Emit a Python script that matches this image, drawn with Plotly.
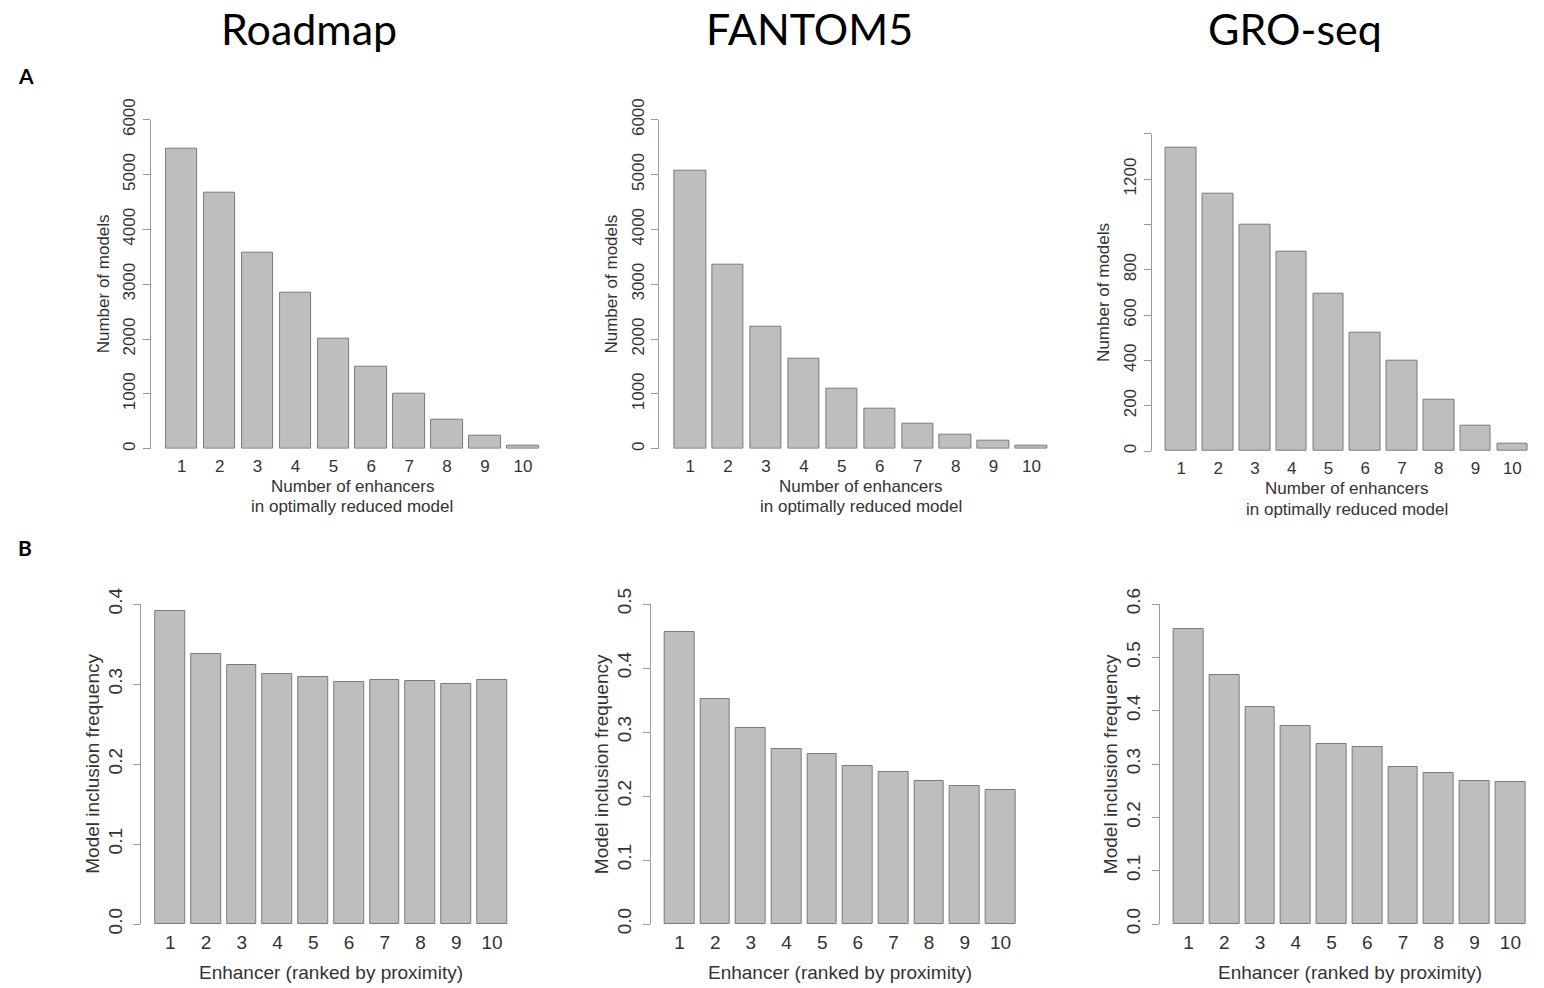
import plotly.graph_objects as go

# the page body margin is removed by a post script, so the figure fills the window
OFF = 0
FW, FH = 1544, 988


def fx(px):
    return (px - OFF) / FW


def fy(py):
    return 1 - (py - OFF) / FH


categories = ["1", "2", "3", "4", "5", "6", "7", "8", "9", "10"]

roadmap_models = [5465, 4669, 3568, 2839, 2000, 1495, 1003, 535, 231, 55]
fantom5_models = [5076, 3356, 2231, 1635, 1094, 736, 462, 261, 140, 52]
groseq_models = [1338, 1137, 997, 879, 696, 521, 397, 228, 110, 34]

roadmap_freq = [0.391, 0.337, 0.324, 0.312, 0.309, 0.303, 0.305, 0.304, 0.300, 0.305]
fantom5_freq = [0.456, 0.351, 0.307, 0.273, 0.265, 0.247, 0.238, 0.223, 0.216, 0.210]
groseq_freq = [0.553, 0.4675, 0.407, 0.372, 0.3375, 0.331, 0.294, 0.283, 0.269, 0.266]

titles = ["Roadmap", "FANTOM5", "GRO-seq"]
row_labels = ["A", "B"]

ticks_models_6000 = [0, 1000, 2000, 3000, 4000, 5000, 6000]
ticks_models_1400 = [0, 200, 400, 600, 800, 1000, 1200, 1400]
ticktext_1400 = ["0", "200", "400", "600", "800", "", "1200", ""]
ticks_04 = [0.0, 0.1, 0.2, 0.3, 0.4]
ticks_05 = [0.0, 0.1, 0.2, 0.3, 0.4, 0.5]
ticks_06 = [0.0, 0.1, 0.2, 0.3, 0.4, 0.5, 0.6]

# bar centres as in R barplot (width 1, space 0.2)
xc = [0.7 + 1.2 * i for i in range(len(categories))]

# pixel geometry of each panel in the 1544x988 page:
# bars = first bar left / last bar right, yd = (axis top, zero line)
panels = [
    dict(v=roadmap_models, bars=(166.0, 538.7), yd=(119.7, 448.7), top=6000,
         tv=ticks_models_6000, tt=[str(t) for t in ticks_models_6000], fs=17, row=0),
    dict(v=fantom5_models, bars=(674.3, 1047.3), yd=(119.7, 448.7), top=6000,
         tv=ticks_models_6000, tt=[str(t) for t in ticks_models_6000], fs=17, row=0),
    dict(v=groseq_models, bars=(1166.0, 1527.7), yd=(133.7, 451.0), top=1400,
         tv=ticks_models_1400, tt=ticktext_1400, fs=17, row=0),
    dict(v=roadmap_freq, bars=(155.3, 507.0), yd=(604.0, 924.0), top=0.4,
         tv=ticks_04, tt=[f"{t:.1f}" for t in ticks_04], fs=19, row=1),
    dict(v=fantom5_freq, bars=(664.7, 1015.3), yd=(604.0, 924.0), top=0.5,
         tv=ticks_05, tt=[f"{t:.1f}" for t in ticks_05], fs=19, row=1),
    dict(v=groseq_freq, bars=(1173.7, 1525.3), yd=(604.0, 924.0), top=0.6,
         tv=ticks_06, tt=[f"{t:.1f}" for t in ticks_06], fs=19, row=1),
]

TXT = "#333333"
AXC = "#9a9a9a"
FONT = "Liberation Sans, Arial, sans-serif"

fig = go.Figure()
annotations = []

for i, p in enumerate(panels):
    n = "" if i == 0 else str(i + 1)
    xa, ya = "x" + n, "y" + n
    fig.add_trace(go.Bar(
        x=xc, y=p["v"], width=1.0, xaxis=xa, yaxis=ya,
        marker=dict(color="#bebebe", line=dict(color="#7a7a7a", width=1)),
        showlegend=False, hoverinfo="y",
    ))
    bl, br = p["bars"]
    scale = (br - bl) / 11.8
    r0, r1 = -0.272, 12.472
    x0 = bl + (r0 - 0.2) * scale
    x1 = br + (r1 - 12.0) * scale
    xmax = OFF + FW
    if x1 > xmax:
        r1 = 12.0 + (xmax - br) / scale
        x1 = xmax
    ytop, ybot = p["yd"]
    layout_x = dict(
        domain=[fx(x0), fx(x1)], range=[r0, r1], anchor=ya,
        showline=False, showgrid=False, zeroline=False, ticks="",
        tickmode="array", tickvals=xc, ticktext=categories,
        tickfont=dict(size=p["fs"], color=TXT, family=FONT),
        ticklabelstandoff=5, fixedrange=True, automargin=False,
    )
    layout_y = dict(
        domain=[fy(ybot), fy(ytop)], range=[0, p["top"]], anchor=xa,
        showline=True, linecolor=AXC, linewidth=1, showgrid=False, zeroline=False,
        ticks="outside", ticklen=7, tickcolor=AXC, tickwidth=1,
        tickmode="array", tickvals=p["tv"], ticktext=p["tt"], tickangle=-90,
        tickfont=dict(size=p["fs"], color=TXT, family=FONT),
        ticklabelstandoff=1 if p["row"] == 0 else 4, fixedrange=True, automargin=False,
    )
    fig.update_layout(**{"xaxis" + n: layout_x, "yaxis" + n: layout_y})

    xmid = (bl + br) / 2
    ymid = (ytop + ybot) / 2
    if p["row"] == 0:
        annotations.append(dict(
            text="Number of models", x=fx(x0 - 48), y=fy(ymid),
            xref="paper", yref="paper", textangle=-90, showarrow=False,
            xanchor="center", yanchor="middle",
            font=dict(size=17, color=TXT, family=FONT)))
        annotations.append(dict(
            text="Number of enhancers", x=fx(xmid), y=fy(ybot + 38),
            xref="paper", yref="paper", showarrow=False,
            xanchor="center", yanchor="middle",
            font=dict(size=17, color=TXT, family=FONT)))
        annotations.append(dict(
            text="in optimally reduced model", x=fx(xmid), y=fy(ybot + 58),
            xref="paper", yref="paper", showarrow=False,
            xanchor="center", yanchor="middle",
            font=dict(size=17, color=TXT, family=FONT)))
    else:
        annotations.append(dict(
            text="Model inclusion frequency", x=fx(x0 - 49.5), y=fy(ymid),
            xref="paper", yref="paper", textangle=-90, showarrow=False,
            xanchor="center", yanchor="middle",
            font=dict(size=19, color=TXT, family=FONT)))
        annotations.append(dict(
            text="Enhancer (ranked by proximity)", x=fx(xmid), y=fy(ybot + 48),
            xref="paper", yref="paper", showarrow=False,
            xanchor="center", yanchor="middle",
            font=dict(size=19, color=TXT, family=FONT)))

title_x = [309, 809, 1295]
for t, tx in zip(titles, title_x):
    annotations.append(dict(
        text=t, x=fx(tx), y=fy(28), xref="paper", yref="paper",
        showarrow=False, xanchor="center", yanchor="middle",
        font=dict(size=43, color="#000000", family="Lato, Open Sans, sans-serif")))

for lab, ly in zip(row_labels, [76, 547]):
    annotations.append(dict(
        text="<b>" + lab + "</b>", x=fx(16), y=fy(ly), xref="paper", yref="paper",
        showarrow=False, xanchor="left", yanchor="middle",
        font=dict(size=21, color="#000000", family="Lato, Open Sans, sans-serif")))

fig.update_layout(
    width=FW, height=FH, margin=dict(l=0, r=0, t=0, b=0, autoexpand=False),
    paper_bgcolor="white", plot_bgcolor="white",
    annotations=annotations, bargap=0,
)

fig.write_html(
    "out.html",
    config={"displayModeBar": False},
    post_script="document.body.style.margin='0';document.body.style.overflow='hidden';",
)
